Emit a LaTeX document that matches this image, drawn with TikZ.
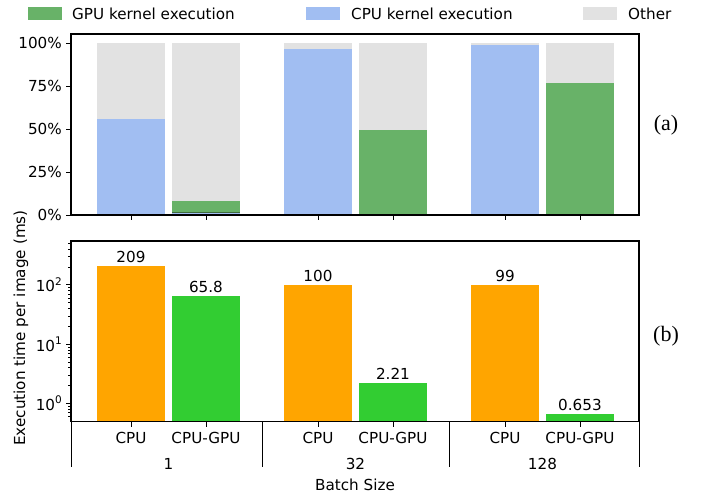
\documentclass[tikz,border=0pt]{standalone}
\usepackage{fontspec}
\setmainfont{DejaVu Sans}
\newfontfamily\serf{Liberation Serif}
\definecolor{gk}{HTML}{68B268}
\definecolor{ck}{HTML}{A1BEF2}
\definecolor{ot}{HTML}{E2E2E2}
\definecolor{cpuo}{HTML}{FFA500}
\definecolor{gpug}{HTML}{32CD32}
\tikzset{
  lbl/.style={font=\fontsize{15.2}{18}\selectfont, inner sep=0pt},
  panel/.style={font=\serf\fontsize{22}{24}\selectfont, inner sep=0pt},
  spine/.style={line width=1.1pt, black},
  tck/.style={line width=0.9pt, black},
  mtck/.style={line width=0.6pt, black},
}
\newcommand{\tenpow}[1]{10\raisebox{0.42em}{\fontsize{10.5}{10.5}\selectfont #1}}
% stacked bar: x-left, green top y, blue top y
\newcommand{\stackbar}[3]{%
  \fill[ot] (#1,215) rectangle ++(68,-172);
  \fill[gk] (#1,215) rectangle (#1+68,#2);
  \fill[ck] (#1,215) rectangle (#1+68,#3);
}
\newcommand{\logbar}[4]{% x-left, colour, value, label
  \pgfmathsetmacro\yt{403.3-59.2*log10(#3)}
  \fill[#2] (#1,421.7) rectangle (#1+68,\yt);
  \node[lbl, anchor=base] at (#1+34,\yt-3.5) {#4};
}
\begin{document}
\begin{tikzpicture}[x=1pt,y=-1pt]
\useasboundingbox (0,0) rectangle (702,495);

% legend
\fill[gk] (28,7) rectangle (62,20);
\node[lbl, anchor=base west] (lg) at (72,20) {GPU kernel execution};
\fill[ck] (306,7) rectangle (340,20);
\node[lbl, anchor=base west] (lc) at (351,20) {CPU kernel execution};
\fill[ot] (583,7) rectangle (617,20);
\node[lbl, anchor=base west] (lo) at (628,20) {Other};

% top panel bars
\stackbar{97}{118.6}{119.4}
\stackbar{172}{200.7}{212.1}
\draw[gk!60!black, line width=0.6pt] (172,212.1) -- (240,212.1);
\stackbar{284}{48.8}{49.5}
\stackbar{359}{130.0}{214.0}
\stackbar{471}{44.7}{45.4}
\stackbar{546}{82.7}{214.5}

% top panel frame and ticks
\draw[spine] (71,34) rectangle (639,215);
\foreach \x in {131,206,318,393,505,580} \draw[tck] (\x,215) -- (\x,220);
\foreach \p/\t in {0/0\%,25/25\%,50/50\%,75/75\%,100/100\%}{
  \pgfmathsetmacro\yy{215-1.72*\p}
  \draw[tck] (66,\yy) -- (71,\yy);
  \node[lbl, anchor=east] at (62,\yy) {\t};
}
\node[panel] (pa) at (666,125) {(a)};

% bottom panel bars
\logbar{97}{cpuo}{209}{209}
\logbar{172}{gpug}{65.8}{65.8}
\logbar{284}{cpuo}{100}{100}
\logbar{359}{gpug}{2.21}{2.21}
\logbar{471}{cpuo}{99}{99}
\logbar{546}{gpug}{0.653}{0.653}

% bottom panel frame
\draw[spine] (71,241) rectangle (639,421.7);
\foreach \x in {131,206,318,393,505,580} \draw[tck] (\x,421.7) -- (\x,426.7);
\foreach \x in {71,262,449,639} \draw[tck] (\x,421.7) -- (\x,467.3);
\foreach \v in {0.6,0.7,0.8,0.9,2,3,4,5,6,7,8,9,20,30,40,50,60,70,80,90,200,300,400,500}{
  \pgfmathsetmacro\yy{403.3-59.2*log10(\v)}
  \draw[mtck] (68,\yy) -- (71,\yy);
}
\foreach \e in {0,1,2}{
  \pgfmathsetmacro\yy{403.3-59.2*\e}
  \draw[tck] (66,\yy) -- (71,\yy);
  \node[lbl, anchor=east] at (62,\yy) {\tenpow{\e}};
}
\node[panel] (pb) at (666,336) {(b)};

% x labels
\foreach \x/\t in {131/CPU,206/CPU-GPU,318/CPU,393/CPU-GPU,505/CPU,580/CPU-GPU}
  \node[lbl, anchor=base] at (\x,443) {\t};
\foreach \x/\t in {168.5/1,355.5/32,542.5/128}
  \node[lbl, anchor=base] at (\x,469.3) {\t};
\node[lbl, anchor=base] (xl) at (355,490) {Batch Size};
\node[lbl, rotate=90] (yl) at (21,328) {Execution time per image (ms)};
\end{tikzpicture}
\end{document}
